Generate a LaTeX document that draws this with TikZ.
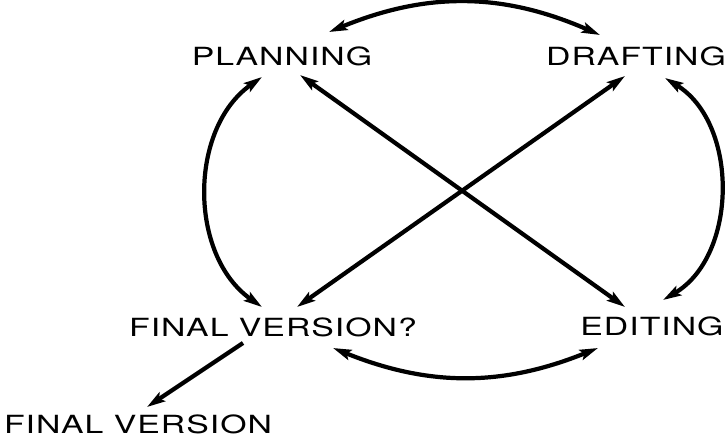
\documentclass[tikz,border=0pt]{standalone}
\usepackage{fontspec}
\newfontfamily\stagefont{TeX Gyre Heros}[FakeStretch=1.35,LetterSpace=4]
\usepackage{tikz}
\usetikzlibrary{arrows.meta}

\begin{document}
\begin{tikzpicture}[x=0.025cm, y=-0.025cm, >={Stealth[length=13pt,width=7.5pt,inset=2.5pt]},
                    every edge/.style={draw,line width=3pt},
                    stage/.style={inner sep=0pt, font=\stagefont\fontsize{17.8pt}{20pt}\selectfont}]
\useasboundingbox (0,0) rectangle (728,439);

\node[stage] (plan)  at (282,56)  {PLANNING};
\node[stage] (draft) at (636,56)  {DRAFTING};
\node[stage] (fv)    at (273,327) {FINAL VERSION?};
\node[stage] (edit)  at (652,326) {EDITING};
\node[stage] (final) at (138,424) {FINAL VERSION};

% the cycle
\path[<->, line width=3pt]
([shift={(47,-24)}]plan.center) edge [bend left=23]  ([shift={(-36,-21)}]draft.center)
([shift={(-20,21)}]plan.center) edge [bend right=55] ([shift={(-11,-20)}]fv.center)
([shift={(29,22)}]draft.center) edge [bend left=59]  ([shift={(11,-26)}]edit.center)
([shift={(60,21)}]fv.center)    edge [bend right=22] ([shift={(-54,22)}]edit.center)
([shift={(18,19)}]plan.center)  edge                 ([shift={(-27,-19)}]edit.center)
([shift={(-11,20)}]draft.center) edge                ([shift={(24,-20)}]fv.center);

% way out
\path[->, line width=3pt]
([shift={(-30,16)}]fv.center) edge ([shift={(9,-17)}]final.center);
\end{tikzpicture}
\end{document}
